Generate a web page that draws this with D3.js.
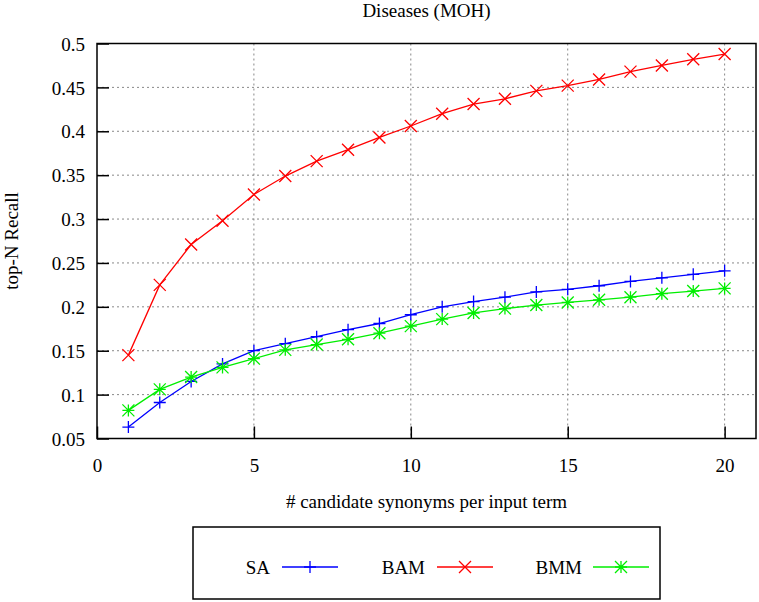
<!DOCTYPE html>
<html><head><meta charset="utf-8">
<script src="https://cdn.jsdelivr.net/npm/d3@7"></script>
<style>body{margin:0;background:#fff}svg{display:block}</style>
</head><body><div id="c"></div>
<script>
const N = d3.range(1, 21);
const SA  = [0.063,0.091,0.115,0.135,0.150,0.158,0.166,0.174,0.181,0.191,0.200,0.206,0.211,0.217,0.220,0.224,0.229,0.233,0.237,0.241];
const BAM = [0.145,0.225,0.271,0.298,0.328,0.349,0.366,0.379,0.393,0.406,0.420,0.431,0.437,0.446,0.452,0.459,0.468,0.475,0.482,0.488];
const BMM = [0.082,0.106,0.120,0.131,0.141,0.151,0.157,0.163,0.170,0.178,0.186,0.193,0.198,0.202,0.205,0.208,0.211,0.215,0.218,0.221];
const xTicks = [0,5,10,15,20];
const yTicks = [0.05,0.1,0.15,0.2,0.25,0.3,0.35,0.4,0.45,0.5];
const seriesNames = ["SA","BAM","BMM"];
const seriesColors = ["#0000ff","#ff0000","#00ee00"];
const seriesMarkers = ["plus","cross","star"];
const title = "Diseases (MOH)";
const xLabel = "# candidate synonyms per input term";
const yLabel = "top-N Recall";

const FONT = "'Liberation Serif', 'DejaVu Serif', serif";
const W = 759, H = 602;
const L = 97, R = 756, T = 43.5, B = 438.5;
const svg = d3.select("#c").append("svg").attr("width", W).attr("height", H)
  .style("font-family", FONT);
const x = d3.scaleLinear().domain([0, 21]).range([L, R]);
const y = d3.scaleLinear().domain([0.05, 0.5]).range([B, T]);

// grid
const g = svg.append("g");
g.selectAll(".vg").data(xTicks.filter(d => d > 0)).enter().append("line")
  .attr("x1", d => x(d)).attr("x2", d => x(d)).attr("y1", T).attr("y2", B)
  .attr("stroke", "#888").attr("stroke-width", 1).attr("stroke-dasharray", "2,3");
g.selectAll(".hg").data(yTicks.filter(d => d > 0.06 && d < 0.49)).enter().append("line")
  .attr("x1", L).attr("x2", R).attr("y1", d => y(d)).attr("y2", d => y(d))
  .attr("stroke", "#888").attr("stroke-width", 1).attr("stroke-dasharray", "2,3");

// axes
const fmt = d => String(+d.toFixed(2));
const xa = svg.append("g").attr("transform", `translate(0,${B})`)
  .call(d3.axisBottom(x).tickValues(xTicks).tickSize(-12).tickPadding(20).tickFormat(d => d));
const ya = svg.append("g").attr("transform", `translate(${L},0)`)
  .call(d3.axisLeft(y).tickValues(yTicks).tickSize(-12).tickPadding(12).tickFormat(fmt));
[xa, ya].forEach(a => {
  a.attr("font-family", FONT).attr("font-size", 19);
  a.select(".domain").remove();
  a.selectAll("line").attr("stroke", "#000").attr("stroke-width", 1.5);
  a.selectAll("text").style("font-family", FONT).style("font-size", "19px").attr("fill", "#000");
});
ya.selectAll("text").attr("dy", "0.35em");

// frame
svg.append("rect").attr("x", L).attr("y", T).attr("width", R - L).attr("height", B - T)
  .attr("fill", "none").attr("stroke", "#000").attr("stroke-width", 1.5);

function marker(sel, type, cx, cy, color) {
  const s = 6;
  let p;
  if (type === "plus") p = `M${cx-s},${cy}H${cx+s}M${cx},${cy-s}V${cy+s}`;
  else if (type === "cross") p = `M${cx-s},${cy-s}L${cx+s},${cy+s}M${cx-s},${cy+s}L${cx+s},${cy-s}`;
  else p = `M${cx-s},${cy}H${cx+s}M${cx},${cy-s}V${cy+s}M${cx-s},${cy-s}L${cx+s},${cy+s}M${cx-s},${cy+s}L${cx+s},${cy-s}`;
  sel.append("path").attr("d", p).attr("stroke", color).attr("stroke-width", 1.3).attr("fill", "none");
}

const data = [SA, BAM, BMM];
const line = d3.line().x((d, i) => x(N[i])).y(d => y(d));
data.forEach((vals, k) => {
  const gs = svg.append("g");
  gs.append("path").datum(vals).attr("d", line).attr("fill", "none")
    .attr("stroke", seriesColors[k]).attr("stroke-width", 1.3);
  vals.forEach((v, i) => marker(gs, seriesMarkers[k], x(N[i]), y(v), seriesColors[k]));
});

function txt(xp, yp, s, anchor) {
  return svg.append("text").attr("x", xp).attr("y", yp).attr("text-anchor", anchor || "middle")
    .style("font-family", FONT).style("font-size", "19px").attr("fill", "#000").text(s);
}
// title & labels
txt((L + R) / 2, 17, title);
txt((L + R) / 2, 508, xLabel);
svg.append("text").attr("transform", `translate(18,${(T + B) / 2}) rotate(-90)`)
  .attr("text-anchor", "middle").style("font-family", FONT).style("font-size", "19px").text(yLabel);

// legend
svg.append("rect").attr("x", 193).attr("y", 527).attr("width", 467).attr("height", 72)
  .attr("fill", "none").attr("stroke", "#000").attr("stroke-width", 1.5);
const legTextEnd = [270, 425, 582];
const legLineStart = [282, 437, 593];
seriesNames.forEach((nm, k) => {
  const ly = 567;
  txt(legTextEnd[k], ly, nm, "end").attr("dy", "0.35em");
  svg.append("line").attr("x1", legLineStart[k]).attr("x2", legLineStart[k] + 56)
    .attr("y1", ly).attr("y2", ly).attr("stroke", seriesColors[k]).attr("stroke-width", 1.3);
  marker(svg, seriesMarkers[k], legLineStart[k] + 28, ly, seriesColors[k]);
});
</script></body></html>
